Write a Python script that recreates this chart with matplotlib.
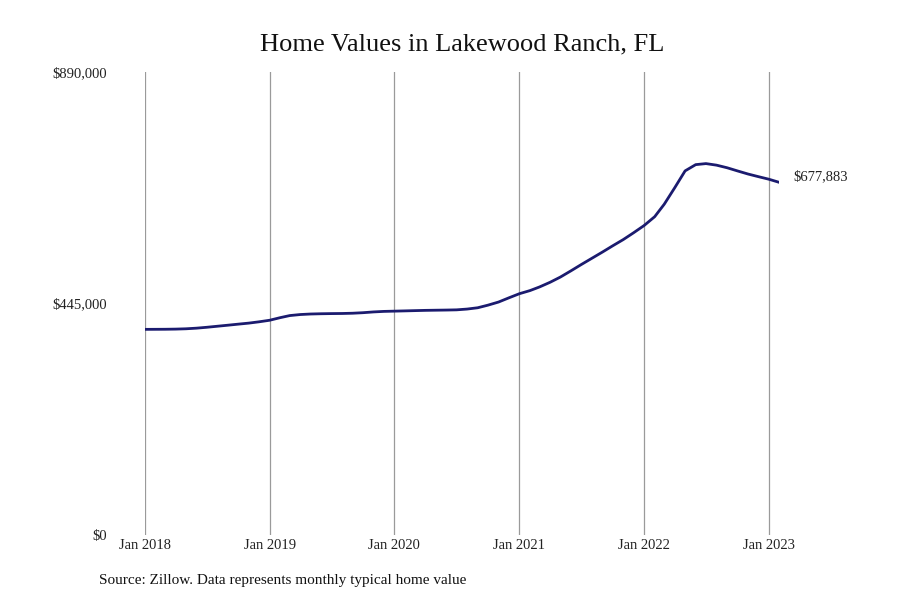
import matplotlib
matplotlib.use("Agg")
import matplotlib.pyplot as plt
import pandas as pd

# monthly typical home value, Jan 2018 - Feb 2023
vals_2018 = [395500, 395600, 395700, 396000, 396600, 397800, 399500, 401500, 403500, 405500, 407500, 410000]
vals_2019 = [413000, 418000, 422000, 424000, 425000, 425500, 425800, 426000, 426500, 427500, 429000, 430000]
vals_2020 = [430500, 431000, 431500, 432000, 432300, 432600, 433000, 434500, 437000, 442000, 448000, 456000]
vals_2021 = [464000, 470000, 477000, 486000, 496000, 508000, 520000, 532000, 544000, 556000, 568000, 581000]
vals_2022 = [595000, 612000, 636000, 668000, 700000, 712000, 714000, 711000, 706000, 700000, 694000, 689000]
vals_2023 = [684000, 677883]

values = vals_2018 + vals_2019 + vals_2020 + vals_2021 + vals_2022 + vals_2023
dates = pd.date_range("2018-01-01", periods=len(values), freq="MS")

yticks = [0, 445000, 890000]
ytick_labels = ["$0", "$445,000", "$890,000"]
xtick_dates = pd.to_datetime(["2018-01-01", "2019-01-01", "2020-01-01", "2021-01-01", "2022-01-01", "2023-01-01"])
xtick_labels = ["Jan 2018", "Jan 2019", "Jan 2020", "Jan 2021", "Jan 2022", "Jan 2023"]

plt.rcParams["font.family"] = ["Liberation Serif", "DejaVu Serif"]

fig = plt.figure(figsize=(9, 6), dpi=100)
ax = fig.add_axes([0.161, 0.108, 0.705, 0.772])

ax.plot(dates, values, color="#1b1b6f", linewidth=2.0, solid_capstyle="round")

ax.set_ylim(0, 890000)
ax.set_xlim(dates[0], dates[-1])
ax.set_yticks(yticks)
ax.set_yticklabels(ytick_labels, fontsize=10.5, color="#222222")
ax.set_xticks(xtick_dates)
ax.set_xticklabels(xtick_labels, fontsize=10.5, color="#222222")
ax.tick_params(axis="y", length=0, pad=27)
ax.tick_params(axis="x", length=0, pad=3)
ax.grid(axis="x", color="#9a9a9a", linewidth=0.9)
ax.grid(axis="y", visible=False)
for s in ax.spines.values():
    s.set_visible(False)

ax.annotate(f"${values[-1]:,}", xy=(dates[-1], values[-1]), xytext=(10, 4),
            textcoords="offset points", va="center", ha="left", fontsize=10.5, color="#222222")

fig.text(0.513, 0.926, "Home Values in Lakewood Ranch, FL", ha="center", va="center", fontsize=19, color="#111111")
fig.text(0.11, 0.033, "Source: Zillow. Data represents monthly typical home value", ha="left", va="center",
         fontsize=11, color="#111111")

fig.savefig("out.png", dpi=100, facecolor="white")
